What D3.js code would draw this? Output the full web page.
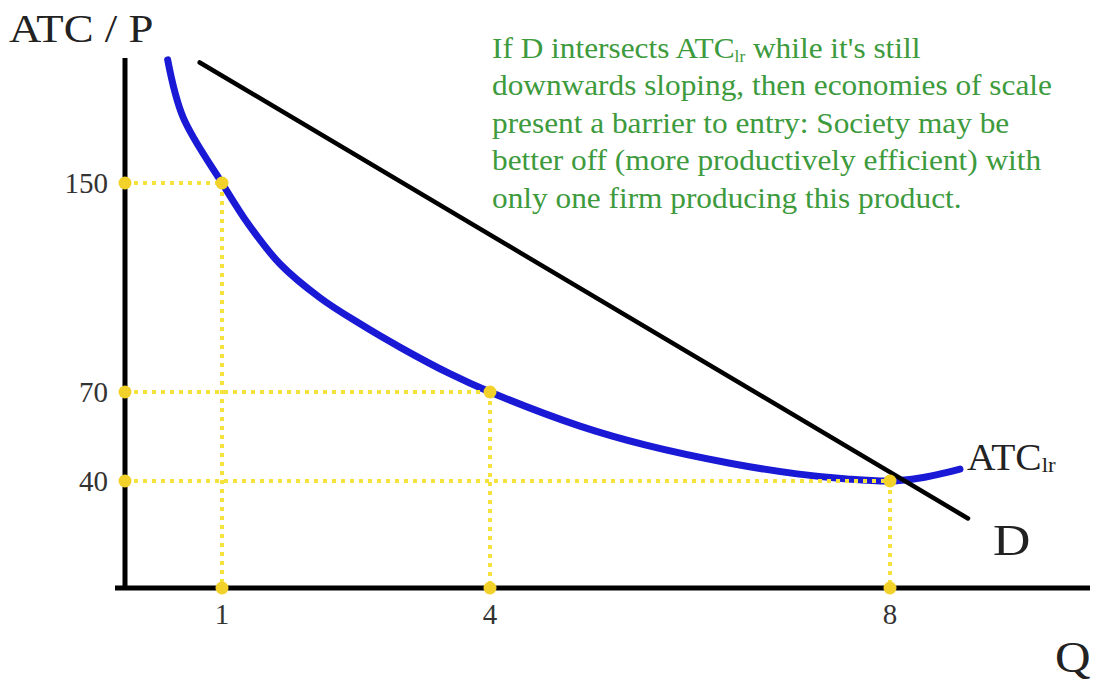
<!DOCTYPE html>
<html>
<head>
<meta charset="utf-8">
<script src="https://cdn.jsdelivr.net/npm/d3@7"></script>
<style>
  body { margin: 0; background: #fff; }
  text { font-family: "Liberation Serif", "Times New Roman", serif; }
</style>
</head>
<body>
<div id="chart"></div>
<script>
// Chart data
const atcQ   = [0.44, 0.6, 1, 1.3, 1.65, 2.1, 2.55, 3, 3.55, 4, 4.9, 5.57, 6.4, 7.07, 7.57, 8, 8.3, 8.7];
const atcVal = [197, 175, 150, 134, 119, 106, 96, 87, 77, 70, 58.5, 52, 46, 42.4, 40.7, 40, 41, 44];
const demandQ = [0.77, 8.78];
const demandP = [196, 26];
const guideQ = [1, 4, 8];
const guideP = [150, 70, 40];
const yTicks = [150, 70, 40];
const xTicks = [1, 4, 8];
const noteLines = [
  ["If D intersects ATC", "lr", " while it's still"],
  ["downwards sloping, then economies of scale"],
  ["present a barrier to entry: Society may be"],
  ["better off (more productively efficient) with"],
  ["only one firm producing this product."]
];

const width = 1097, height = 685;
const stretch = 1.08; // the slide text is slightly wider than normal

const svg = d3.select("#chart").append("svg")
  .attr("width", width)
  .attr("height", height);

// schematic axes: not evenly spaced, so piecewise scales
const x = d3.scaleLinear()
  .domain([0, 1, 4, 8, 10])
  .range([125, 222, 490, 890, 1090]);
const y = d3.scaleLinear()
  .domain([0, 40, 70, 150, 200])
  .range([588, 481, 392, 183, 52]);

// widen a text around its own x
function widen(sel, k) {
  const x0 = +sel.attr("x");
  sel.attr("transform", `translate(${x0},0) scale(${k},1) translate(${-x0},0)`);
  return sel;
}

// Blue long-run ATC curve
const atcData = atcQ.map((q, i) => ({ q: q, v: atcVal[i] }));
svg.append("path")
  .datum(atcData)
  .attr("fill", "none")
  .attr("stroke", "#1a1ad6")
  .attr("stroke-width", 7)
  .attr("stroke-linecap", "round")
  .attr("d", d3.line().x(d => x(d.q)).y(d => y(d.v)).curve(d3.curveCatmullRom));

// Demand line
svg.append("line")
  .attr("x1", x(demandQ[0])).attr("y1", y(demandP[0]))
  .attr("x2", x(demandQ[1])).attr("y2", y(demandP[1]))
  .attr("stroke", "#000")
  .attr("stroke-width", 4.5)
  .attr("stroke-linecap", "round");

// Axes
svg.append("line")
  .attr("x1", x(0)).attr("x2", x(0))
  .attr("y1", 58).attr("y2", y(0) + 2)
  .attr("stroke", "#000").attr("stroke-width", 5);
svg.append("line")
  .attr("x1", 115).attr("x2", 1090)
  .attr("y1", y(0)).attr("y2", y(0))
  .attr("stroke", "#000").attr("stroke-width", 5);

// Yellow dotted guides
const guides = svg.append("g");
guideQ.forEach((q, i) => {
  const p = guideP[i];
  guides.append("line")
    .attr("x1", x(0)).attr("x2", x(q))
    .attr("y1", y(p)).attr("y2", y(p))
    .attr("stroke", "#f6e23c").attr("stroke-width", 4)
    .attr("stroke-dasharray", "4,5");
  guides.append("line")
    .attr("x1", x(q)).attr("x2", x(q))
    .attr("y1", y(p)).attr("y2", y(0))
    .attr("stroke", "#f6e23c").attr("stroke-width", 4)
    .attr("stroke-dasharray", "4,5");
  [[0, p], [q, p], [q, 0]].forEach(pt => {
    guides.append("circle")
      .attr("cx", x(pt[0])).attr("cy", y(pt[1]))
      .attr("r", 6.5)
      .attr("fill", "#f2d22a");
  });
});

// Tick labels
svg.selectAll(".ytick").data(yTicks).enter().append("text")
  .attr("class", "ytick")
  .attr("x", 108).attr("y", d => y(d) + 10)
  .attr("text-anchor", "end")
  .attr("font-size", 29)
  .attr("fill", "#333")
  .text(d => d);
svg.selectAll(".xtick").data(xTicks).enter().append("text")
  .attr("class", "xtick")
  .attr("x", d => x(d)).attr("y", 624)
  .attr("text-anchor", "middle")
  .attr("font-size", 29)
  .attr("fill", "#333")
  .text(d => d);

// Axis titles and curve labels
widen(svg.append("text")
  .attr("x", 9).attr("y", 42)
  .attr("font-size", 40)
  .attr("fill", "#222")
  .text("ATC / P"), 1.12);
widen(svg.append("text")
  .attr("x", 1055).attr("y", 672)
  .attr("font-size", 44)
  .attr("fill", "#222")
  .text("Q"), 1.12);
widen(svg.append("text")
  .attr("x", 993).attr("y", 555)
  .attr("font-size", 45)
  .attr("fill", "#222")
  .text("D"), 1.15);
const atcLabel = svg.append("text")
  .attr("x", 967).attr("y", 470)
  .attr("font-size", 38)
  .attr("fill", "#222");
atcLabel.append("tspan").text("ATC");
atcLabel.append("tspan").attr("font-size", 22).attr("dy", 2).text("lr");
widen(atcLabel, 1.04);

// Green annotation
noteLines.forEach((parts, i) => {
  const t = svg.append("text")
    .attr("x", 492).attr("y", 58 + i * 37.5)
    .attr("font-size", 29)
    .attr("fill", "#3d9a3d");
  parts.forEach((s, j) => {
    if (parts.length === 3 && j === 1) {
      t.append("tspan").attr("font-size", 16).attr("dy", 4).text(s);
    } else if (parts.length === 3 && j === 2) {
      t.append("tspan").attr("dy", -4).text(s);
    } else {
      t.append("tspan").text(s);
    }
  });
  widen(t, stretch);
});
</script>
</body>
</html>
